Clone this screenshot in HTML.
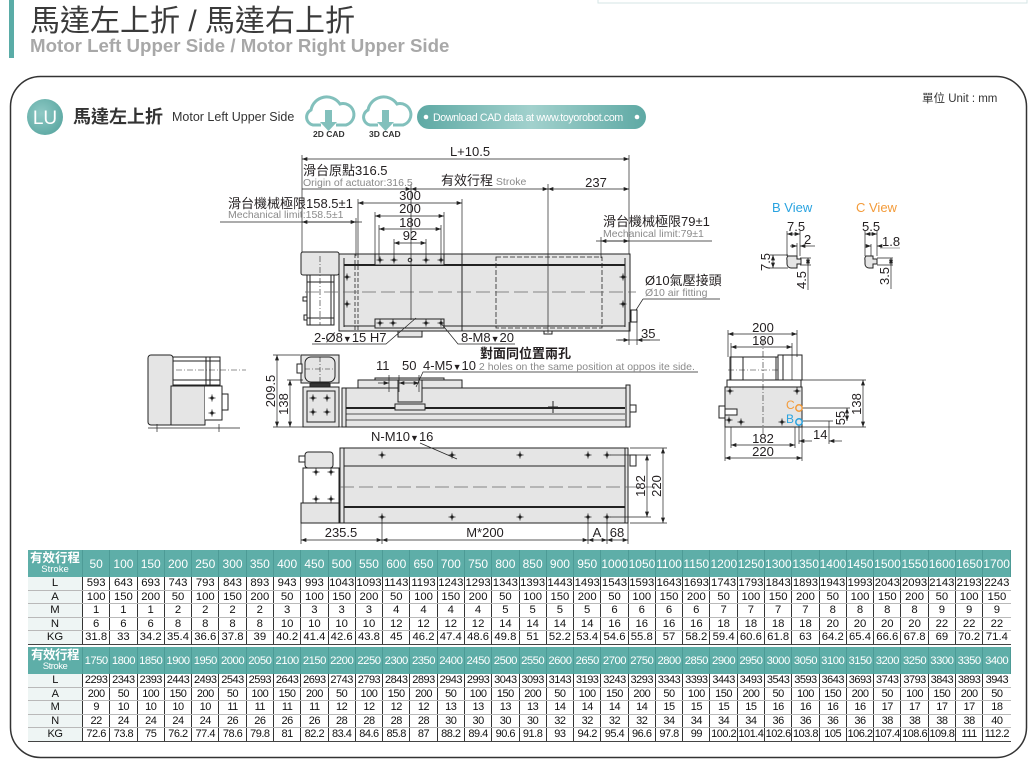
<!DOCTYPE html>
<html><head><meta charset="utf-8">
<style>
html,body{margin:0;padding:0;background:#fff;}
body{width:1036px;height:766px;position:relative;overflow:hidden;font-family:"Liberation Sans","Noto Sans CJK TC",sans-serif;}
svg{position:absolute;left:0;top:0;}
.t{position:absolute;left:28px;width:983px;border-collapse:collapse;table-layout:fixed;font-size:11.3px;color:#111;text-align:center;font-family:"Liberation Sans","Noto Sans CJK TC",sans-serif;}
.t th{background:#5eaea8;color:#fff;font-weight:normal;padding:0;border-right:1px solid #4d9b96;font-size:12px;height:27px;}
.t th.f{width:54px;line-height:11px;}
.t th.f b{font-size:12.5px;display:block;}
.t th.f span{font-size:9.5px;display:block;}
.t td{padding:0;height:12.5px;line-height:12.5px;border-left:1px solid #333;border-bottom:1.5px solid #b9b9b9;}
.t td.l{background:#eef5f4;border-left:none;border-right:1px solid #333;}
.t tr:last-child td{border-bottom:1.5px solid #444;}
.t2{letter-spacing:-0.5px;font-size:11px;}
.t2 th{font-size:11.3px;}
</style></head><body>
<svg width="1036" height="766" viewBox="0 0 1036 766" font-family="'Liberation Sans','Noto Sans CJK TC',sans-serif">
<defs>
<marker id="ar" viewBox="0 0 8 6" refX="8" refY="3" markerWidth="6" markerHeight="4" orient="auto-start-reverse" markerUnits="userSpaceOnUse"><path d="M0,0L8,3L0,6z" fill="#222"/></marker>
<g id="h"><circle r="1.6" fill="#222"/><path d="M-3.5,0H3.5M0,-3.5V3.5" stroke="#222" stroke-width="0.8"/></g>
<radialGradient id="lu" cx="0.4" cy="0.4" r="0.7"><stop offset="0" stop-color="#8fc9c5"/><stop offset="1" stop-color="#5aa7a1"/></radialGradient>
<linearGradient id="pill" x1="0" x2="1"><stop offset="0" stop-color="#5ea9a4"/><stop offset="0.5" stop-color="#a2d1cd"/><stop offset="1" stop-color="#5ea9a4"/></linearGradient>
</defs>

<!-- header -->
<rect x="598" y="-10" width="429" height="13" fill="none" stroke="#d5e6e6" stroke-width="1"/>
<rect x="9" y="0" width="5" height="58" fill="#5aaca7"/>
<text x="30" y="31" font-size="30" fill="#3a3a3a">馬達左上折 / 馬達右上折</text>
<text x="30" y="52" font-size="18.7" font-weight="bold" fill="#a8a8a8">Motor Left Upper Side / Motor Right Upper Side</text>

<!-- panel -->
<rect x="10.5" y="76.5" width="1016" height="681" rx="30" fill="none" stroke="#333" stroke-width="1.5"/>
<circle cx="45" cy="117" r="18" fill="url(#lu)"/>
<text x="45" y="124" font-size="19" fill="#fff" text-anchor="middle">LU</text>
<text x="73" y="123" font-size="18" font-weight="bold" fill="#333">馬達左上折</text>
<text x="172" y="121" font-size="12.5" fill="#333">Motor Left Upper Side</text>
<g fill="none" stroke="#82c0bc" stroke-width="3">
<path d="M321,125H313A8,8 0 0 1 311,110A16,16 0 0 1 340,104A10,10 0 0 1 346,125H336"/>
<path d="M378,125H370A8,8 0 0 1 368,110A16,16 0 0 1 397,104A10,10 0 0 1 403,125H393"/>
</g>
<g fill="#82c0bc"><rect x="325" y="110" width="7" height="13"/><path d="M320,122H337L328.5,131z"/><rect x="382" y="110" width="7" height="13"/><path d="M377,122H394L385.5,131z"/></g>
<text x="313" y="137" font-size="8.5" font-weight="bold" fill="#333">2D CAD</text>
<text x="369" y="137" font-size="8.5" font-weight="bold" fill="#333">3D CAD</text>
<rect x="417" y="105" width="229" height="24" rx="12" fill="url(#pill)"/>
<circle cx="426" cy="117" r="2.3" fill="#fff"/><circle cx="637" cy="117" r="2.3" fill="#fff"/>
<text x="433" y="121" font-size="10.6" fill="#fff" letter-spacing="-0.35">Download CAD data at www.toyorobot.com</text>
<text x="922" y="102" font-size="11.5" fill="#333">單位 Unit : mm</text>

<!-- TOP VIEW -->
<g stroke="#222" stroke-width="1" fill="none">
<rect x="301" y="252" width="38" height="23" rx="2" fill="#e5e5e5"/>
<rect x="307" y="275" width="27" height="50" fill="#fff"/>
<path d="M310,275V325M331,275V325M307,282H334M307,318H334"/>
<rect x="303" y="297" width="4" height="4"/><rect x="304" y="315" width="3" height="5"/>
<path d="M320,256V325" stroke-dasharray="6 2 1 2" stroke-width="0.6"/>
<rect x="339" y="254" width="291" height="77" fill="#e5e5e5"/>
<path d="M344,258V327M625,258V327M344,326H625"/>
<path d="M344,265H625" stroke-width="2"/>
<path d="M355,254V331M358,254V331" stroke-dasharray="4 2" stroke-width="0.8"/>
<path d="M462,254V331"/>
<rect x="375" y="254" width="69" height="11" fill="#e5e5e5"/>
<rect x="375" y="319" width="69" height="9" fill="#e5e5e5"/>
<rect x="496" y="257" width="106" height="71" stroke-dasharray="5 2" stroke-width="0.8"/>
<path d="M305,292H636" stroke-dasharray="14 5" stroke-width="0.7" stroke="#666"/>
<rect x="398" y="331" width="24" height="6" fill="#e5e5e5"/>
<rect x="544" y="331" width="8" height="3"/>
<rect x="631" y="310" width="6" height="12" fill="#fff"/>
<circle cx="410" cy="260" r="1.8"/>
</g>
<use href="#h" x="380" y="260"/><use href="#h" x="394" y="260"/><use href="#h" x="426" y="260"/><use href="#h" x="441" y="260"/>
<use href="#h" x="380" y="323"/><use href="#h" x="393" y="323"/><use href="#h" x="426" y="323"/><use href="#h" x="441" y="323"/>
<use href="#h" x="347" y="277"/><use href="#h" x="347" y="304"/><use href="#h" x="623" y="277"/><use href="#h" x="623" y="304"/>

<!-- top dims -->
<g stroke="#222" stroke-width="0.7" fill="none">
<path d="M302,155V252M629,155V254"/>
<line x1="302" y1="159" x2="629" y2="159" marker-start="url(#ar)" marker-end="url(#ar)"/>
<line x1="302" y1="189" x2="411" y2="189" marker-end="url(#ar)"/>
<line x1="411" y1="189" x2="548" y2="189" marker-start="url(#ar)" marker-end="url(#ar)"/>
<line x1="548" y1="189" x2="629" y2="189" marker-start="url(#ar)" marker-end="url(#ar)"/>
<path d="M411,184V320M548,184V333"/>
<path d="M220,222H362M356,218V256"/>
<line x1="302" y1="222" x2="356" y2="222" marker-start="url(#ar)" marker-end="url(#ar)"/>
<path d="M358,199V254M462,199V254"/>
<line x1="358" y1="203" x2="462" y2="203" marker-start="url(#ar)" marker-end="url(#ar)"/>
<path d="M375,212V254M444,212V254"/>
<line x1="375" y1="216" x2="444" y2="216" marker-start="url(#ar)" marker-end="url(#ar)"/>
<path d="M379,225V260M441,225V260"/>
<line x1="379" y1="229" x2="441" y2="229" marker-start="url(#ar)" marker-end="url(#ar)"/>
<path d="M394,239V260M426,239V260"/>
<line x1="394" y1="243" x2="426" y2="243" marker-start="url(#ar)" marker-end="url(#ar)"/>
<path d="M596,241H712M601,237V258"/>
<line x1="601" y1="241" x2="629" y2="241" marker-start="url(#ar)" marker-end="url(#ar)"/>
<path d="M629,322V345M637,322V345M618,340H660"/>
<line x1="616" y1="340" x2="629" y2="340" marker-end="url(#ar)"/>
<line x1="650" y1="340" x2="637" y2="340" marker-end="url(#ar)"/>
<path d="M643,299H720M643,299L636,310"/>
<path d="M312,344H386L416,318"/>
<path d="M515,344H458L440,322"/>
</g>
<g font-size="13" fill="#231f20">
<text x="470" y="156" text-anchor="middle">L+10.5</text>
<text x="303" y="175">滑台原點316.5</text>
<text x="441" y="185">有效行程<tspan font-size="10.5" fill="#8a8a8a"> Stroke</tspan></text>
<text x="596" y="187" text-anchor="middle">237</text>
<text x="228" y="208">滑台機械極限158.5±1</text>
<text x="410" y="200" text-anchor="middle">300</text>
<text x="410" y="213" text-anchor="middle">200</text>
<text x="410" y="227" text-anchor="middle">180</text>
<text x="410" y="240" text-anchor="middle">92</text>
<text x="603" y="226">滑台機械極限79±1</text>
<text x="645" y="285">Ø10氣壓接頭</text>
<text x="641" y="338">35</text>
<text x="314" y="342">2-Ø8<tspan font-size="9">▼</tspan>15 H7</text>
<text x="461" y="342">8-M8<tspan font-size="9">▼</tspan>20</text>
</g>
<g font-size="10.5" fill="#8a8a8a">
<text x="303" y="186">Origin of actuator:316.5</text>
<text x="228" y="218">Mechanical limit:158.5±1</text>
<text x="603" y="237">Mechanical limit:79±1</text>
<text x="645" y="296">Ø10 air fitting</text>
</g>

<!-- SIDE VIEW -->
<g stroke="#222" stroke-width="1" fill="none">
<rect x="301" y="355" width="38" height="28" fill="#e5e5e5"/>
<rect x="305" y="357" width="30" height="25" rx="6" fill="#e5e5e5"/>
<path d="M320,357V382M305,369H335" stroke-dasharray="5 2 1 2" stroke-width="0.6"/>
<rect x="297" y="364" width="5" height="9" fill="#fff"/>
<rect x="310" y="383" width="20" height="4" fill="#333"/>
<rect x="303" y="387" width="36" height="40" fill="#e5e5e5"/>
<rect x="307" y="391" width="28" height="31"/>
<rect x="342" y="388" width="286" height="39" fill="#e5e5e5"/>
<rect x="358" y="380" width="104" height="8" fill="#e5e5e5"/>
<rect x="375" y="378" width="69" height="2" fill="#e5e5e5"/>
<path d="M346,388V427"/>
<path d="M346,408H625" stroke-width="2"/>
<path d="M346,420H625M346,414H625" stroke-width="0.7"/>
<rect x="398" y="380" width="24" height="22" fill="#e5e5e5"/>
<rect x="395" y="404" width="30" height="6" fill="#e5e5e5"/>
<path d="M553,401V413M548,407H558"/>
<rect x="626" y="385" width="4" height="42" fill="#e5e5e5"/>
<rect x="630" y="405" width="6" height="7" fill="#fff"/>
<!-- far left view -->
<rect x="148" y="355" width="25" height="70" rx="3" fill="#e5e5e5"/>
<rect x="173" y="357" width="47" height="28" fill="#fff"/>
<path d="M206,357V385M210,357V385M173,361H220M173,380H220"/>
<path d="M176,370H246" stroke-dasharray="6 2 1 2" stroke-width="0.6"/>
<rect x="171" y="386" width="34" height="39" fill="#e5e5e5"/>
<path d="M205,386H222V420H205" fill="#fff"/>
<rect x="222" y="394" width="6" height="16" fill="#fff"/>
<path d="M148,428H240M157,424V432M219,424V432" stroke-width="0.7"/>
</g>
<use href="#h" x="313" y="398"/><use href="#h" x="327" y="398"/><use href="#h" x="313" y="412"/><use href="#h" x="327" y="412"/>
<use href="#h" x="212" y="398"/><use href="#h" x="212" y="413"/>
<g stroke="#222" stroke-width="0.7" fill="none">
<path d="M273,355H300M273,427H342M287,380H303"/>
<line x1="277" y1="355" x2="277" y2="427" marker-start="url(#ar)" marker-end="url(#ar)"/>
<line x1="290" y1="380" x2="290" y2="427" marker-start="url(#ar)" marker-end="url(#ar)"/>
<path d="M389,375V392M399,375V392M419,375V392"/>
<line x1="378" y1="383" x2="389" y2="383" marker-end="url(#ar)"/>
<line x1="399" y1="383" x2="419" y2="383" marker-start="url(#ar)" marker-end="url(#ar)"/>
<path d="M698,372H423L416,387"/>
</g>
<g font-size="13" fill="#231f20">
<text transform="translate(275,391) rotate(-90)" text-anchor="middle">209.5</text>
<text transform="translate(288,404) rotate(-90)" text-anchor="middle">138</text>
<text x="376" y="370">11</text>
<text x="402" y="370">50</text>
<text x="423" y="370">4-M5<tspan font-size="9">▼</tspan>10<tspan font-size="10.5" fill="#8a8a8a"> 2 holes on the same position at oppos ite side.</tspan></text>
<text x="480" y="358" font-weight="bold">對面同位置兩孔</text>
</g>

<!-- BOTTOM VIEW -->
<g stroke="#222" stroke-width="1" fill="none">
<rect x="340" y="448" width="288" height="75" fill="#e5e5e5"/>
<path d="M344,448V523M625,448V523M344,466H625"/>
<path d="M344,507H625" stroke-width="2"/>
<path d="M340,487H655" stroke-dasharray="14 5" stroke-width="0.7" stroke="#666"/>
<rect x="305" y="452" width="28" height="16" rx="3" fill="#e5e5e5"/>
<rect x="299" y="456" width="6" height="6" fill="#fff"/>
<rect x="303" y="468" width="36" height="35" fill="#fff"/>
<rect x="301" y="503" width="38" height="20" fill="#e5e5e5"/>
<rect x="630" y="455" width="6" height="11" fill="#fff"/>
</g>
<use href="#h" x="382" y="455"/><use href="#h" x="452" y="455"/><use href="#h" x="520" y="455"/><use href="#h" x="588" y="455"/><use href="#h" x="607" y="455"/>
<use href="#h" x="382" y="517"/><use href="#h" x="452" y="517"/><use href="#h" x="520" y="517"/><use href="#h" x="588" y="517"/><use href="#h" x="607" y="517"/>
<use href="#h" x="316" y="472"/><use href="#h" x="331" y="472"/><use href="#h" x="316" y="499"/><use href="#h" x="331" y="499"/>
<g stroke="#222" stroke-width="0.7" fill="none">
<path d="M301,523V544M382,517V544M588,517V544M607,517V544M628,523V544"/>
<line x1="301" y1="540" x2="382" y2="540" marker-start="url(#ar)" marker-end="url(#ar)"/>
<line x1="382" y1="540" x2="588" y2="540" marker-start="url(#ar)" marker-end="url(#ar)"/>
<line x1="588" y1="540" x2="607" y2="540" marker-start="url(#ar)" marker-end="url(#ar)"/>
<line x1="607" y1="540" x2="628" y2="540" marker-start="url(#ar)" marker-end="url(#ar)"/>
<path d="M610,455H651M610,517H651M630,448H667M630,523H667"/>
<line x1="647" y1="455" x2="647" y2="517" marker-start="url(#ar)" marker-end="url(#ar)"/>
<line x1="663" y1="448" x2="663" y2="523" marker-start="url(#ar)" marker-end="url(#ar)"/>
<path d="M420,443L457,459"/>
</g>
<g font-size="13" fill="#231f20">
<text x="371" y="441">N-M10<tspan font-size="9">▼</tspan>16</text>
<text x="341" y="537" text-anchor="middle">235.5</text>
<text x="485" y="537" text-anchor="middle">M*200</text>
<text x="597" y="537" text-anchor="middle">A</text>
<text x="617" y="537" text-anchor="middle">68</text>
<text transform="translate(645,486) rotate(-90)" text-anchor="middle">182</text>
<text transform="translate(661,486) rotate(-90)" text-anchor="middle">220</text>
</g>

<!-- END VIEW -->
<g stroke="#222" stroke-width="1" fill="none">
<rect x="730" y="357" width="48" height="23" fill="#fff"/>
<path d="M743,357V380M776,357V380"/>
<rect x="778" y="355" width="24" height="25" fill="#fff"/>
<path d="M783,355V380"/>
<rect x="727" y="380" width="74" height="7" fill="#fff"/>
<rect x="725" y="387" width="77" height="40" fill="#e5e5e5"/>
<path d="M728,370H778" stroke-dasharray="6 2 1 2" stroke-width="0.6"/>
<path d="M763,340V434" stroke-dasharray="6 2 1 2" stroke-width="0.6"/>
<rect x="719" y="406" width="6" height="12" fill="#fff"/>
<rect x="725" y="409" width="12" height="6" fill="#fff"/>
</g>
<use href="#h" x="730" y="391"/><use href="#h" x="797" y="391"/><use href="#h" x="741" y="422"/><use href="#h" x="782" y="422"/><use href="#h" x="729" y="420"/>
<g stroke="#222" stroke-width="0.7" fill="none">
<path d="M728,330V357M797,330V357M731,343V380M792,343V380"/>
<line x1="728" y1="334" x2="797" y2="334" marker-start="url(#ar)" marker-end="url(#ar)"/>
<line x1="731" y1="347" x2="792" y2="347" marker-start="url(#ar)" marker-end="url(#ar)"/>
<path d="M802,380H866M802,427H866M802,408H850M802,421H833"/>
<line x1="863" y1="380" x2="863" y2="427" marker-start="url(#ar)" marker-end="url(#ar)"/>
<line x1="847" y1="408" x2="847" y2="421" marker-start="url(#ar)" marker-end="url(#ar)"/>
<path d="M829,421V444M799,425V444"/>
<line x1="812" y1="441" x2="799" y2="441" marker-end="url(#ar)"/>
<line x1="842" y1="441" x2="829" y2="441" marker-end="url(#ar)"/>
<path d="M731,427V448M795,427V448M725,427V461M802,427V461"/>
<line x1="731" y1="445" x2="795" y2="445" marker-start="url(#ar)" marker-end="url(#ar)"/>
<line x1="725" y1="458" x2="802" y2="458" marker-start="url(#ar)" marker-end="url(#ar)"/>
</g>
<circle cx="799" cy="408" r="3.2" fill="none" stroke="#f39b3a" stroke-width="1.5"/>
<circle cx="799" cy="422" r="3.2" fill="none" stroke="#29a3e0" stroke-width="1.5"/>
<text x="786" y="409" font-size="12" fill="#f39b3a">C</text>
<text x="786" y="423" font-size="12" fill="#29a3e0">B</text>
<g font-size="13" fill="#231f20">
<text x="763" y="332" text-anchor="middle">200</text>
<text x="763" y="345" text-anchor="middle">180</text>
<text transform="translate(861,404) rotate(-90)" text-anchor="middle">138</text>
<text transform="translate(845,418) rotate(-90)" text-anchor="middle">55</text>
<text x="813" y="439">14</text>
<text x="763" y="443" text-anchor="middle">182</text>
<text x="763" y="456" text-anchor="middle">220</text>
</g>

<!-- B / C VIEW -->
<text x="772" y="212" font-size="13" fill="#29a3e0">B View</text>
<text x="856" y="212" font-size="13" fill="#f39b3a">C View</text>
<g stroke="#222" stroke-width="0.7" fill="none">
<path d="M787,231V256M800,231V256M797,243V258M770,255H788M770,268H788M800,258H811M800,265H811"/>
<line x1="787" y1="234" x2="800" y2="234" marker-start="url(#ar)" marker-end="url(#ar)"/>
<line x1="790" y1="246" x2="797" y2="246" marker-end="url(#ar)"/>
<line x1="815" y1="246" x2="800" y2="246" marker-end="url(#ar)"/>
<line x1="773" y1="255" x2="773" y2="268" marker-start="url(#ar)" marker-end="url(#ar)"/>
<line x1="808" y1="258" x2="808" y2="265" marker-start="url(#ar)" marker-end="url(#ar)"/>
<path d="M808,265V290"/>
<path d="M865,231V256M877,231V256M871,244V258M877,258H893M877,265H893"/>
<line x1="865" y1="234" x2="877" y2="234" marker-start="url(#ar)" marker-end="url(#ar)"/>
<line x1="866" y1="246" x2="871" y2="246" marker-end="url(#ar)"/>
<line x1="880" y1="246" x2="877" y2="246" marker-end="url(#ar)"/>
<line x1="891" y1="258" x2="891" y2="265" marker-start="url(#ar)" marker-end="url(#ar)"/>
<path d="M891,265V289"/>
<path d="M788,256H797V259H801V264H797V268H791A4,4 0 0 1 787,264V260A4,4 0 0 1 788,256z" fill="#e5e5e5" stroke-width="1"/>
<path d="M866,256H873V259H877V264H873V268H869A4,4 0 0 1 865,264V260A4,4 0 0 1 866,256z" fill="#e5e5e5" stroke-width="1"/>
</g>
<path d="M880,248H900" stroke="#aaa" stroke-width="1"/>
<g font-size="13" fill="#231f20">
<text x="787" y="231">7.5</text>
<text x="804" y="244">2</text>
<text transform="translate(770,262) rotate(-90)" text-anchor="middle">7.5</text>
<text transform="translate(806,280) rotate(-90)" text-anchor="middle">4.5</text>
<text x="862" y="231">5.5</text>
<text x="882" y="246">1.8</text>
<text transform="translate(889,276) rotate(-90)" text-anchor="middle">3.5</text>
</g>
</svg>

<table class="t" style="top:550px">
<tr><th class="f"><b>有效行程</b><span>Stroke</span></th><th>50</th><th>100</th><th>150</th><th>200</th><th>250</th><th>300</th><th>350</th><th>400</th><th>450</th><th>500</th><th>550</th><th>600</th><th>650</th><th>700</th><th>750</th><th>800</th><th>850</th><th>900</th><th>950</th><th>1000</th><th>1050</th><th>1100</th><th>1150</th><th>1200</th><th>1250</th><th>1300</th><th>1350</th><th>1400</th><th>1450</th><th>1500</th><th>1550</th><th>1600</th><th>1650</th><th>1700</th></tr>
<tr><td class="l">L</td><td>593</td><td>643</td><td>693</td><td>743</td><td>793</td><td>843</td><td>893</td><td>943</td><td>993</td><td>1043</td><td>1093</td><td>1143</td><td>1193</td><td>1243</td><td>1293</td><td>1343</td><td>1393</td><td>1443</td><td>1493</td><td>1543</td><td>1593</td><td>1643</td><td>1693</td><td>1743</td><td>1793</td><td>1843</td><td>1893</td><td>1943</td><td>1993</td><td>2043</td><td>2093</td><td>2143</td><td>2193</td><td>2243</td></tr>
<tr><td class="l">A</td><td>100</td><td>150</td><td>200</td><td>50</td><td>100</td><td>150</td><td>200</td><td>50</td><td>100</td><td>150</td><td>200</td><td>50</td><td>100</td><td>150</td><td>200</td><td>50</td><td>100</td><td>150</td><td>200</td><td>50</td><td>100</td><td>150</td><td>200</td><td>50</td><td>100</td><td>150</td><td>200</td><td>50</td><td>100</td><td>150</td><td>200</td><td>50</td><td>100</td><td>150</td></tr>
<tr><td class="l">M</td><td>1</td><td>1</td><td>1</td><td>2</td><td>2</td><td>2</td><td>2</td><td>3</td><td>3</td><td>3</td><td>3</td><td>4</td><td>4</td><td>4</td><td>4</td><td>5</td><td>5</td><td>5</td><td>5</td><td>6</td><td>6</td><td>6</td><td>6</td><td>7</td><td>7</td><td>7</td><td>7</td><td>8</td><td>8</td><td>8</td><td>8</td><td>9</td><td>9</td><td>9</td></tr>
<tr><td class="l">N</td><td>6</td><td>6</td><td>6</td><td>8</td><td>8</td><td>8</td><td>8</td><td>10</td><td>10</td><td>10</td><td>10</td><td>12</td><td>12</td><td>12</td><td>12</td><td>14</td><td>14</td><td>14</td><td>14</td><td>16</td><td>16</td><td>16</td><td>16</td><td>18</td><td>18</td><td>18</td><td>18</td><td>20</td><td>20</td><td>20</td><td>20</td><td>22</td><td>22</td><td>22</td></tr>
<tr><td class="l">KG</td><td>31.8</td><td>33</td><td>34.2</td><td>35.4</td><td>36.6</td><td>37.8</td><td>39</td><td>40.2</td><td>41.4</td><td>42.6</td><td>43.8</td><td>45</td><td>46.2</td><td>47.4</td><td>48.6</td><td>49.8</td><td>51</td><td>52.2</td><td>53.4</td><td>54.6</td><td>55.8</td><td>57</td><td>58.2</td><td>59.4</td><td>60.6</td><td>61.8</td><td>63</td><td>64.2</td><td>65.4</td><td>66.6</td><td>67.8</td><td>69</td><td>70.2</td><td>71.4</td></tr>
</table>

<table class="t t2" style="top:647px">
<tr><th class="f"><b>有效行程</b><span>Stroke</span></th><th>1750</th><th>1800</th><th>1850</th><th>1900</th><th>1950</th><th>2000</th><th>2050</th><th>2100</th><th>2150</th><th>2200</th><th>2250</th><th>2300</th><th>2350</th><th>2400</th><th>2450</th><th>2500</th><th>2550</th><th>2600</th><th>2650</th><th>2700</th><th>2750</th><th>2800</th><th>2850</th><th>2900</th><th>2950</th><th>3000</th><th>3050</th><th>3100</th><th>3150</th><th>3200</th><th>3250</th><th>3300</th><th>3350</th><th>3400</th></tr>
<tr><td class="l">L</td><td>2293</td><td>2343</td><td>2393</td><td>2443</td><td>2493</td><td>2543</td><td>2593</td><td>2643</td><td>2693</td><td>2743</td><td>2793</td><td>2843</td><td>2893</td><td>2943</td><td>2993</td><td>3043</td><td>3093</td><td>3143</td><td>3193</td><td>3243</td><td>3293</td><td>3343</td><td>3393</td><td>3443</td><td>3493</td><td>3543</td><td>3593</td><td>3643</td><td>3693</td><td>3743</td><td>3793</td><td>3843</td><td>3893</td><td>3943</td></tr>
<tr><td class="l">A</td><td>200</td><td>50</td><td>100</td><td>150</td><td>200</td><td>50</td><td>100</td><td>150</td><td>200</td><td>50</td><td>100</td><td>150</td><td>200</td><td>50</td><td>100</td><td>150</td><td>200</td><td>50</td><td>100</td><td>150</td><td>200</td><td>50</td><td>100</td><td>150</td><td>200</td><td>50</td><td>100</td><td>150</td><td>200</td><td>50</td><td>100</td><td>150</td><td>200</td><td>50</td></tr>
<tr><td class="l">M</td><td>9</td><td>10</td><td>10</td><td>10</td><td>10</td><td>11</td><td>11</td><td>11</td><td>11</td><td>12</td><td>12</td><td>12</td><td>12</td><td>13</td><td>13</td><td>13</td><td>13</td><td>14</td><td>14</td><td>14</td><td>14</td><td>15</td><td>15</td><td>15</td><td>15</td><td>16</td><td>16</td><td>16</td><td>16</td><td>17</td><td>17</td><td>17</td><td>17</td><td>18</td></tr>
<tr><td class="l">N</td><td>22</td><td>24</td><td>24</td><td>24</td><td>24</td><td>26</td><td>26</td><td>26</td><td>26</td><td>28</td><td>28</td><td>28</td><td>28</td><td>30</td><td>30</td><td>30</td><td>30</td><td>32</td><td>32</td><td>32</td><td>32</td><td>34</td><td>34</td><td>34</td><td>34</td><td>36</td><td>36</td><td>36</td><td>36</td><td>38</td><td>38</td><td>38</td><td>38</td><td>40</td></tr>
<tr><td class="l">KG</td><td>72.6</td><td>73.8</td><td>75</td><td>76.2</td><td>77.4</td><td>78.6</td><td>79.8</td><td>81</td><td>82.2</td><td>83.4</td><td>84.6</td><td>85.8</td><td>87</td><td>88.2</td><td>89.4</td><td>90.6</td><td>91.8</td><td>93</td><td>94.2</td><td>95.4</td><td>96.6</td><td>97.8</td><td>99</td><td>100.2</td><td>101.4</td><td>102.6</td><td>103.8</td><td>105</td><td>106.2</td><td>107.4</td><td>108.6</td><td>109.8</td><td>111</td><td>112.2</td></tr>
</table>
</body></html>
